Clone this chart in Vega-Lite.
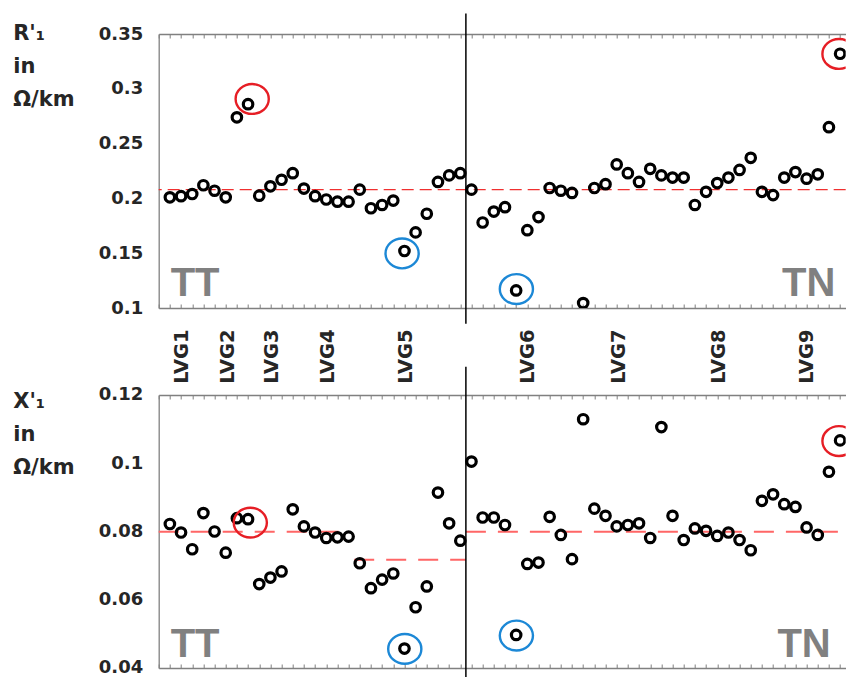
{
  "$schema": "https://vega.github.io/schema/vega-lite/v6.json",
  "autosize": {"type": "pad"},
  "padding": {"left": 12.7, "top": 12, "right": 0, "bottom": 0},
  "bounds": "flush",
  "spacing": 87,
  "config": {
    "view": {"stroke": null},
    "axis": {"labelFlush": false, "labelOverlap": false, "grid": false}
  },
  "datasets": {
    "pts": [
      {"i":1,"R":0.201,"X":0.0822},{"i":2,"R":0.202,"X":0.0797},{"i":3,"R":0.204,"X":0.0748},{"i":4,"R":0.212,"X":0.0854},
      {"i":5,"R":0.207,"X":0.0800},{"i":6,"R":0.201,"X":0.0738},{"i":7,"R":0.274,"X":0.0839},{"i":8,"R":0.286,"X":0.0836},
      {"i":9,"R":0.2025,"X":0.0646},{"i":10,"R":0.211,"X":0.0665},{"i":11,"R":0.217,"X":0.0683},{"i":12,"R":0.223,"X":0.0865},
      {"i":13,"R":0.209,"X":0.0815},{"i":14,"R":0.202,"X":0.0797},{"i":15,"R":0.199,"X":0.0781},{"i":16,"R":0.197,"X":0.0783},
      {"i":17,"R":0.197,"X":0.0785},{"i":18,"R":0.208,"X":0.0707},{"i":19,"R":0.191,"X":0.0634},{"i":20,"R":0.194,"X":0.0659},
      {"i":21,"R":0.198,"X":0.0677},{"i":22,"R":0.152,"X":0.0457},{"i":23,"R":0.169,"X":0.0578},{"i":24,"R":0.186,"X":0.0639},
      {"i":25,"R":0.215,"X":0.0914},{"i":26,"R":0.221,"X":0.0824},{"i":27,"R":0.223,"X":0.0773},{"i":28,"R":0.208,"X":0.1005},
      {"i":29,"R":0.178,"X":0.0841},{"i":30,"R":0.188,"X":0.0841},{"i":31,"R":0.192,"X":0.0819},{"i":32,"R":0.116,"X":0.0497},
      {"i":33,"R":0.171,"X":0.0705},{"i":34,"R":0.183,"X":0.0709},{"i":35,"R":0.2095,"X":0.0843},{"i":36,"R":0.207,"X":0.0790},
      {"i":37,"R":0.205,"X":0.0719},{"i":38,"R":0.1045,"X":0.1129},{"i":39,"R":0.2095,"X":0.0867},{"i":40,"R":0.213,"X":0.0846},
      {"i":41,"R":0.231,"X":0.0815},{"i":42,"R":0.223,"X":0.0819},{"i":43,"R":0.215,"X":0.0824},{"i":44,"R":0.227,"X":0.0781},
      {"i":45,"R":0.221,"X":0.1106},{"i":46,"R":0.219,"X":0.0846},{"i":47,"R":0.219,"X":0.0775},{"i":48,"R":0.194,"X":0.0809},
      {"i":49,"R":0.206,"X":0.0802},{"i":50,"R":0.214,"X":0.0787},{"i":51,"R":0.219,"X":0.0797},{"i":52,"R":0.226,"X":0.0775},
      {"i":53,"R":0.237,"X":0.0745},{"i":54,"R":0.206,"X":0.0890},{"i":55,"R":0.203,"X":0.0909},{"i":56,"R":0.219,"X":0.0880},
      {"i":57,"R":0.224,"X":0.0872},{"i":58,"R":0.218,"X":0.0812},{"i":59,"R":0.222,"X":0.0790},{"i":60,"R":0.265,"X":0.0975},
      {"i":61,"R":0.332,"X":0.1067}
    ]
  },
  "vconcat": [
    {
      "width": 687,
      "height": 274,
      "resolve": {"axis": {"x": "independent", "y": "independent"}},
      "layer": [
        {
          "data": {"values": [{"m": 0.208}]},
          "mark": {"type": "rule", "color": "#f03030", "strokeWidth": 1.2, "strokeDash": [12, 6]},
          "encoding": {
            "y": {"field": "m", "type": "quantitative", "scale": {"domain": [0.1, 0.35], "nice": false, "zero": false}, "axis": null}
          }
        },
        {
          "data": {"values": [{"i": 27.5, "a": 0.3688, "b": 0.0857}]},
          "mark": {"type": "rule", "color": "black", "strokeWidth": 1.5},
          "encoding": {
            "x": {"field": "i", "type": "quantitative", "scale": {"domain": [0, 61.5], "nice": false, "zero": false},
              "axis": {"orient": "top", "values": [0,1,2,3,4,5,6,7,8,9,10,11,12,13,14,15,16,17,18,19,20,21,22,23,24,25,26,27,28,29,30,31,32,33,34,35,36,37,38,39,40,41,42,43,44,45,46,47,48,49,50,51,52,53,54,55,56,57,58,59,60,61],
                "labels": false, "tickSize": -4, "title": null, "domainColor": "#808080", "tickColor": "#808080", "domainWidth": 1.3, "tickWidth": 1}},
            "y": {"field": "a", "type": "quantitative", "scale": {"domain": [0.1, 0.35], "nice": false, "zero": false}, "axis": null},
            "y2": {"field": "b"}
          }
        },
        {
          "data": {"name": "pts"},
          "mark": {"type": "point", "shape": "circle", "filled": false, "color": "black", "strokeWidth": 3.2, "size": 90, "opacity": 1, "clip": true},
          "encoding": {
            "x": {"field": "i", "type": "quantitative", "scale": {"domain": [0, 61.5], "nice": false, "zero": false},
              "axis": {"orient": "bottom", "values": [0,1,2,3,4,5,6,7,8,9,10,11,12,13,14,15,16,17,18,19,20,21,22,23,24,25,26,27,28,29,30,31,32,33,34,35,36,37,38,39,40,41,42,43,44,45,46,47,48,49,50,51,52,53,54,55,56,57,58,59,60,61],
                "labels": false, "tickSize": -4, "title": null, "domainColor": "#808080", "tickColor": "#808080", "domainWidth": 1.3, "tickWidth": 1}},
            "y": {"field": "R", "type": "quantitative", "scale": {"domain": [0.1, 0.35], "nice": false, "zero": false},
              "axis": {"orient": "left", "values": [0.1, 0.15, 0.2, 0.25, 0.3, 0.35], "format": ".2~f", "ticks": false,
                "labelFont": "DejaVu Sans", "labelFontWeight": "bold", "labelFontSize": 18, "labelColor": "#262626", "labelPadding": 16,
                "domainColor": "#808080", "domainWidth": 1.3,
                "title": ["R'₁", "in", "Ω/km"], "titleAngle": 0, "titleAlign": "left", "titleBaseline": "alphabetic",
                "titleX": -146, "titleY": 5, "titleFont": "DejaVu Sans", "titleFontWeight": "bold", "titleFontSize": 21,
                "titleColor": "#262626", "titleLineHeight": 33.5}}
          }
        },
        {
          "data": {"values": [
            {"i": 8.37, "v": 0.2907, "k": "max"},
            {"i": 21.79, "v": 0.1498, "k": "min"},
            {"i": 32.02, "v": 0.1173, "k": "min"},
            {"i": 60.9, "v": 0.3318, "k": "max"}
          ]},
          "mark": {"type": "point", "shape": "M -1 0 A 1 0.9 0 1 0 1 0 A 1 0.9 0 1 0 -1 0 Z", "filled": false, "strokeWidth": 2.4, "size": 1100, "opacity": 1, "clip": true},
          "encoding": {
            "x": {"field": "i", "type": "quantitative", "scale": {"domain": [0, 61.5], "nice": false, "zero": false}, "axis": null},
            "y": {"field": "v", "type": "quantitative", "scale": {"domain": [0.1, 0.35], "nice": false, "zero": false}, "axis": null},
            "color": {"field": "k", "type": "nominal", "scale": {"domain": ["max", "min"], "range": ["#e61e25", "#1c88d6"]}, "legend": null}
          }
        },
        {
          "data": {"values": [
            {"t": "TT", "i": 1.07, "v": 0.1112},
            {"t": "TN", "i": 55.8, "v": 0.1112}
          ]},
          "mark": {"type": "text", "align": "left", "baseline": "alphabetic", "font": "Liberation Sans", "fontWeight": "bold", "fontSize": 40, "color": "#808080"},
          "encoding": {
            "x": {"field": "i", "type": "quantitative", "scale": {"domain": [0, 61.5], "nice": false, "zero": false}, "axis": null},
            "y": {"field": "v", "type": "quantitative", "scale": {"domain": [0.1, 0.35], "nice": false, "zero": false}, "axis": null},
            "text": {"field": "t"}
          }
        },
        {
          "data": {"values": [
            {"t": "LVG1", "i": 2.12, "v": 0.0309},
            {"t": "LVG2", "i": 6.17, "v": 0.0309},
            {"t": "LVG3", "i": 10.18, "v": 0.0309},
            {"t": "LVG4", "i": 15.14, "v": 0.0309},
            {"t": "LVG5", "i": 22.16, "v": 0.0309},
            {"t": "LVG6", "i": 33.1, "v": 0.0309},
            {"t": "LVG7", "i": 41.17, "v": 0.0309},
            {"t": "LVG8", "i": 50.15, "v": 0.0309},
            {"t": "LVG9", "i": 58.07, "v": 0.0309}
          ]},
          "mark": {"type": "text", "angle": 270, "align": "left", "baseline": "middle", "font": "DejaVu Sans", "fontWeight": "bold", "fontSize": 19.5, "color": "#262626"},
          "encoding": {
            "x": {"field": "i", "type": "quantitative", "scale": {"domain": [0, 61.5], "nice": false, "zero": false}, "axis": null},
            "y": {"field": "v", "type": "quantitative", "scale": {"domain": [0.1, 0.35], "nice": false, "zero": false}, "axis": null},
            "text": {"field": "t"}
          }
        }
      ]
    },
    {
      "width": 687,
      "height": 273,
      "resolve": {"axis": {"x": "independent", "y": "independent"}},
      "layer": [
        {
          "data": {"values": [
            {"a": 0, "b": 17, "m": 0.0799},
            {"a": 17.5, "b": 27.5, "m": 0.0717},
            {"a": 27.5, "b": 61.5, "m": 0.0799}
          ]},
          "mark": {"type": "rule", "color": "#ff6666", "strokeWidth": 2, "strokeDash": [20, 12]},
          "encoding": {
            "x": {"field": "a", "type": "quantitative", "scale": {"domain": [0, 61.5], "nice": false, "zero": false}, "axis": null},
            "x2": {"field": "b"},
            "y": {"field": "m", "type": "quantitative", "scale": {"domain": [0.04, 0.12], "nice": false, "zero": false}, "axis": null}
          }
        },
        {
          "data": {"values": [{"i": 27.5, "a": 0.1283, "b": 0.0373}]},
          "mark": {"type": "rule", "color": "black", "strokeWidth": 1.5},
          "encoding": {
            "x": {"field": "i", "type": "quantitative", "scale": {"domain": [0, 61.5], "nice": false, "zero": false},
              "axis": {"orient": "top", "values": [0,1,2,3,4,5,6,7,8,9,10,11,12,13,14,15,16,17,18,19,20,21,22,23,24,25,26,27,28,29,30,31,32,33,34,35,36,37,38,39,40,41,42,43,44,45,46,47,48,49,50,51,52,53,54,55,56,57,58,59,60,61],
                "labels": false, "tickSize": -4, "title": null, "domainColor": "#808080", "tickColor": "#808080", "domainWidth": 1.3, "tickWidth": 1}},
            "y": {"field": "a", "type": "quantitative", "scale": {"domain": [0.04, 0.12], "nice": false, "zero": false}, "axis": null},
            "y2": {"field": "b"}
          }
        },
        {
          "data": {"name": "pts"},
          "mark": {"type": "point", "shape": "circle", "filled": false, "color": "black", "strokeWidth": 3.2, "size": 90, "opacity": 1, "clip": true},
          "encoding": {
            "x": {"field": "i", "type": "quantitative", "scale": {"domain": [0, 61.5], "nice": false, "zero": false},
              "axis": {"orient": "bottom", "values": [0,1,2,3,4,5,6,7,8,9,10,11,12,13,14,15,16,17,18,19,20,21,22,23,24,25,26,27,28,29,30,31,32,33,34,35,36,37,38,39,40,41,42,43,44,45,46,47,48,49,50,51,52,53,54,55,56,57,58,59,60,61],
                "labels": false, "tickSize": -4, "title": null, "domainColor": "#808080", "tickColor": "#808080", "domainWidth": 1.3, "tickWidth": 1}},
            "y": {"field": "X", "type": "quantitative", "scale": {"domain": [0.04, 0.12], "nice": false, "zero": false},
              "axis": {"orient": "left", "values": [0.04, 0.06, 0.08, 0.1, 0.12], "format": ".2~f", "ticks": false,
                "labelFont": "DejaVu Sans", "labelFontWeight": "bold", "labelFontSize": 18, "labelColor": "#262626", "labelPadding": 16,
                "domainColor": "#808080", "domainWidth": 1.3,
                "title": ["X'₁", "in", "Ω/km"], "titleAngle": 0, "titleAlign": "left", "titleBaseline": "alphabetic",
                "titleX": -146, "titleY": 12.7, "titleFont": "DejaVu Sans", "titleFontWeight": "bold", "titleFontSize": 21,
                "titleColor": "#262626", "titleLineHeight": 33}}
          }
        },
        {
          "data": {"values": [
            {"i": 8.2, "v": 0.0826, "k": "max"},
            {"i": 22.03, "v": 0.0456, "k": "min"},
            {"i": 32.02, "v": 0.0495, "k": "min"},
            {"i": 60.9, "v": 0.1065, "k": "max"}
          ]},
          "mark": {"type": "point", "shape": "M -1 0 A 1 0.9 0 1 0 1 0 A 1 0.9 0 1 0 -1 0 Z", "filled": false, "strokeWidth": 2.4, "size": 1100, "opacity": 1, "clip": true},
          "encoding": {
            "x": {"field": "i", "type": "quantitative", "scale": {"domain": [0, 61.5], "nice": false, "zero": false}, "axis": null},
            "y": {"field": "v", "type": "quantitative", "scale": {"domain": [0.04, 0.12], "nice": false, "zero": false}, "axis": null},
            "color": {"field": "k", "type": "nominal", "scale": {"domain": ["max", "min"], "range": ["#e61e25", "#1c88d6"]}, "legend": null}
          }
        },
        {
          "data": {"values": [
            {"t": "TT", "i": 1.07, "v": 0.0431},
            {"t": "TN", "i": 55.39, "v": 0.0431}
          ]},
          "mark": {"type": "text", "align": "left", "baseline": "alphabetic", "font": "Liberation Sans", "fontWeight": "bold", "fontSize": 40, "color": "#808080"},
          "encoding": {
            "x": {"field": "i", "type": "quantitative", "scale": {"domain": [0, 61.5], "nice": false, "zero": false}, "axis": null},
            "y": {"field": "v", "type": "quantitative", "scale": {"domain": [0.04, 0.12], "nice": false, "zero": false}, "axis": null},
            "text": {"field": "t"}
          }
        }
      ]
    }
  ]
}
